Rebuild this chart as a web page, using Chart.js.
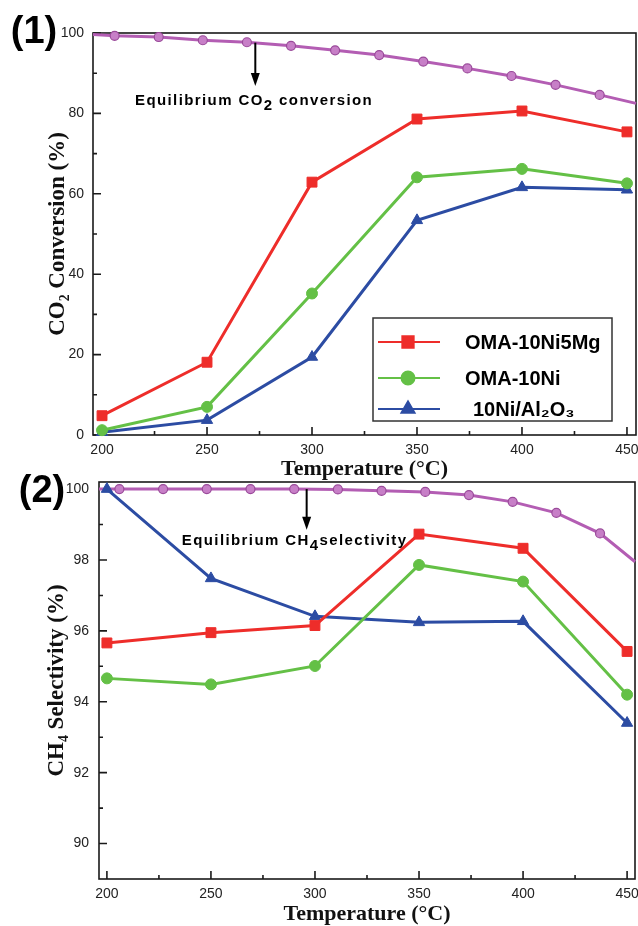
<!DOCTYPE html>
<html>
<head>
<meta charset="utf-8">
<script src="https://cdn.jsdelivr.net/npm/chart.js@4.4.1/dist/chart.umd.min.js"></script>
<style>
body { margin: 0; background: #fff; width: 638px; height: 926px; position: relative; overflow: hidden; }
.wrap { position: absolute; left: 0; width: 638px; }
#w1 { top: 0; height: 485px; }
#w2 { top: 455px; height: 471px; }
</style>
</head>
<body>
<div class="wrap" id="w1"><canvas id="c1"></canvas></div>
<div class="wrap" id="w2"><canvas id="c2"></canvas></div>
<script>
// reaction temperatures (oC)
const temps = [200, 250, 300, 350, 400, 450];
const names = ['OMA-10Ni5Mg', 'OMA-10Ni', '10Ni/Al₂O₃'];

// CO2 conversion (%)
const convMg = [4.8, 18.1, 62.9, 78.6, 80.6, 75.4];
const convNi = [1.2, 7.0, 35.2, 64.1, 66.2, 62.6];
const convAl = [0.7, 3.7, 19.4, 53.4, 61.6, 61.0];

// CH4 selectivity (%)
const selMg = [95.66, 95.95, 96.15, 98.73, 98.33, 95.42];
const selNi = [94.66, 94.49, 95.01, 97.86, 97.39, 94.2];
const selAl = [100.0, 97.48, 96.41, 96.24, 96.27, 93.4];

// equilibrium curves (first and last points sit on the frame)
const eqTemps1 = [195.7, 206, 227, 248, 269, 290, 311, 332, 353, 374, 395, 416, 437, 454.3];
const eqConv = [99.6, 99.3, 99.0, 98.2, 97.7, 96.8, 95.7, 94.5, 92.9, 91.2, 89.3, 87.1, 84.6, 82.5];
const eqTemps2 = [196.2, 206, 227, 248, 269, 290, 311, 332, 353, 374, 395, 416, 437, 453.8];
const eqSel = [100, 100, 100, 100, 100, 100, 99.99, 99.95, 99.92, 99.83, 99.64, 99.33, 98.75, 97.95];

// ticks
const xTicks = [200, 250, 300, 350, 400, 450];
const xMinor = [225, 275, 325, 375, 425];
const yTicks1 = [0, 20, 40, 60, 80, 100];
const yMinor1 = [10, 30, 50, 70, 90];
const yTicks2 = [90, 92, 94, 96, 98, 100];
const yMinor2 = [91, 93, 95, 97, 99];

const RED = '#ee2d2a', GREEN = '#64c046', BLUE = '#2c4ca3', PURPLE = '#b35db3';
Chart.defaults.font.family = '"Liberation Sans", Arial, sans-serif';

function series(label, xs, ys, color, style, r) {
  return {
    label, data: xs.map((x, i) => ({x, y: ys[i]})),
    borderColor: color, backgroundColor: color,
    pointBackgroundColor: color, pointBorderColor: color,
    pointStyle: style, pointRadius: r, pointBorderWidth: 1,
    borderWidth: 3, clip: false, legend: true
  };
}
function equil(xs, ys) {
  return {
    label: 'equilibrium', data: xs.map((x, i) => ({x, y: ys[i]})),
    borderColor: PURPLE, pointBackgroundColor: '#c77fc7', pointBorderColor: '#9a4a9a',
    pointRadius: xs.map((x, i) => (i == 0 || i == xs.length - 1) ? 0 : 4.5),
    pointBorderWidth: 1.2, borderWidth: 3, clip: false
  };
}

const framePlugin = {
  id: 'frame',
  beforeDatasetsDraw(chart, args, o) {
    const {ctx, chartArea: a, scales: {x, y}} = chart;
    ctx.save();
    ctx.strokeStyle = '#1a1a1a';
    ctx.lineWidth = 1.6;
    ctx.strokeRect(a.left, a.top, a.right - a.left, a.bottom - a.top);
    ctx.beginPath();
    const tick = (vals, len, horiz) => vals.forEach(v => {
      if (horiz) {
        const p = x.getPixelForValue(v);
        ctx.moveTo(p, a.bottom); ctx.lineTo(p, a.bottom - len);
      } else {
        const p = y.getPixelForValue(v);
        ctx.moveTo(a.left, p); ctx.lineTo(a.left + len, p);
      }
    });
    tick(xTicks, 8, true);
    tick(xMinor, 4, true);
    tick(o.yMajor, 8, false);
    tick(o.yMinor, 4, false);
    ctx.stroke();
    ctx.restore();
  },
  afterDatasetsDraw(chart, args, o) {
    const {ctx, chartArea: a, scales: {x, y}} = chart;
    const n = o.note;
    ctx.save();
    // arrow
    const ax = x.getPixelForValue(n.arrowX);
    const y0 = y.getPixelForValue(n.arrowFrom), y1 = y.getPixelForValue(n.arrowTo);
    ctx.strokeStyle = '#000'; ctx.fillStyle = '#000'; ctx.lineWidth = 2;
    ctx.beginPath(); ctx.moveTo(ax, y0); ctx.lineTo(ax, y1 - 10); ctx.stroke();
    ctx.beginPath();
    ctx.moveTo(ax - 4.5, y1 - 13); ctx.lineTo(ax + 4.5, y1 - 13); ctx.lineTo(ax, y1);
    ctx.closePath(); ctx.fill();
    // note text with subscript
    ctx.font = 'bold 15px "Liberation Sans", Arial';
    ctx.letterSpacing = '1.4px';
    ctx.textBaseline = 'alphabetic';
    let tx = x.getPixelForValue(n.textX);
    const ty = y.getPixelForValue(n.textY);
    n.parts.forEach(([t, dy]) => { ctx.fillText(t, tx, ty + dy); tx += ctx.measureText(t).width; });
    ctx.letterSpacing = '0px';

    // legend box
    if (o.legend) {
      const L = a.right - 263, T = a.bottom - 117;
      ctx.strokeStyle = '#333'; ctx.lineWidth = 1.5;
      ctx.strokeRect(L, T, 239, 103);
      const rows = [24, 60, 91];
      const sets = chart.data.datasets.filter(d => d.legend);
      sets.forEach((d, i) => {
        const ry = T + rows[i];
        ctx.strokeStyle = d.borderColor; ctx.fillStyle = d.borderColor; ctx.lineWidth = 2;
        ctx.beginPath(); ctx.moveTo(L + 5, ry); ctx.lineTo(L + 67, ry); ctx.stroke();
        Chart.helpers.drawPoint(ctx, {pointStyle: d.pointStyle, radius: d.pointRadius + 1, rotation: 0, borderWidth: 1}, L + 35, ry);
        ctx.fillStyle = '#000';
        ctx.font = 'bold 20px "Liberation Sans", Arial';
        ctx.textBaseline = 'middle';
        ctx.fillText(d.label, L + (i == 2 ? 100 : 92), ry + 1);
      });
    }
    ctx.restore();
  },
  afterDraw(chart, args, o) {
    const ctx = chart.ctx;
    ctx.save();
    ctx.fillStyle = '#000';
    ctx.font = 'bold 38px "Liberation Sans", Arial';
    ctx.textAlign = 'center'; ctx.textBaseline = 'middle';
    ctx.fillText(o.panel[0], o.panel[1], o.panel[2]);
    ctx.restore();
  }
};

function makeChart(id, cfg) {
  return new Chart(document.getElementById(id), {
    type: 'line',
    data: {datasets: cfg.datasets},
    options: {
      responsive: true, maintainAspectRatio: false, animation: false,
      layout: {padding: cfg.pad, autoPadding: false},
      plugins: {
        legend: {display: false}, tooltip: {enabled: false},
        frame: cfg.frame
      },
      scales: {
        x: {
          type: 'linear', min: cfg.xMin, max: cfg.xMax,
          afterBuildTicks: s => { s.ticks = xTicks.map(v => ({value: v})); },
          afterFit: s => { s.height = cfg.xH; s.paddingLeft = 0; s.paddingRight = 0; },
          grid: {display: false, drawTicks: false}, border: {display: false},
          ticks: {padding: 7, color: '#222', maxRotation: 0, font: {size: 14}},
          title: {display: true, text: 'Temperature (°C)', color: '#111', padding: 0,
                  font: {family: '"Liberation Serif", "Times New Roman", serif', size: 22, weight: 'bold', lineHeight: 1}}
        },
        y: {
          min: cfg.yMin, max: cfg.yMax,
          afterBuildTicks: s => { s.ticks = cfg.yTicks.map(v => ({value: v})); },
          afterFit: s => { s.width = cfg.yW; s.paddingTop = 0; s.paddingBottom = 0; },
          grid: {display: false, drawTicks: false}, border: {display: false},
          ticks: {padding: cfg.yPad, color: '#222', font: {size: 14}},
          title: {display: true, text: cfg.yTitle, color: '#111', padding: 0,
                  font: {family: '"Liberation Serif", "Times New Roman", serif', size: 23, weight: 'bold', lineHeight: 1}}
        }
      }
    },
    plugins: [framePlugin]
  });
}

makeChart('c1', {
  datasets: [
    series(names[0], temps, convMg, RED, 'rect', 7),
    series(names[1], temps, convNi, GREEN, 'circle', 5.5),
    series(names[2], temps, convAl, BLUE, 'triangle', 6.5),
    equil(eqTemps1, eqConv)
  ],
  pad: {left: 47, top: 33, right: 2, bottom: 4.5},
  xMin: 195.7, xMax: 454.3, xH: 45.5,
  yMin: 0, yMax: 100, yTicks: yTicks1, yW: 46, yPad: 9,
  yTitle: 'CO₂ Conversion (%)',
  frame: {
    yMajor: yTicks1, yMinor: yMinor1, legend: true, panel: ['(1)', 34, 33],
    note: {arrowX: 273, arrowFrom: 97.6, arrowTo: 86.8, textX: 215.7, textY: 82.1,
           parts: [['Equilibrium CO', 0], ['2', 5], [' conversion', 0]]}
  }
});

makeChart('c2', {
  datasets: [
    series(names[0], temps, selMg, RED, 'rect', 7),
    series(names[1], temps, selNi, GREEN, 'circle', 5.5),
    series(names[2], temps, selAl, BLUE, 'triangle', 6.5),
    equil(eqTemps2, eqSel)
  ],
  pad: {left: 46, top: 27, right: 3, bottom: 0.5},
  xMin: 196.2, xMax: 453.8, xH: 46.5,
  yMin: 89, yMax: 100.2, yTicks: yTicks2, yW: 53, yPad: 10,
  yTitle: 'CH₄ Selectivity (%)',
  frame: {
    yMajor: yTicks2, yMinor: yMinor2, legend: false, panel: ['(2)', 42, 37],
    note: {arrowX: 296, arrowFrom: 100, arrowTo: 98.85, textX: 236, textY: 98.42,
           parts: [['Equilibrium CH', 0], ['4', 5], ['selectivity', 0]]}
  }
});
</script>
</body>
</html>
